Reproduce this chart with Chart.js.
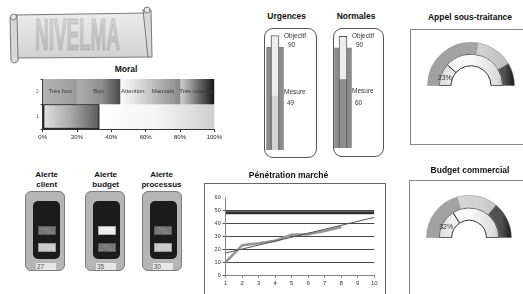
<!DOCTYPE html>
<html>
<head>
<meta charset="utf-8">
<script src="https://cdn.jsdelivr.net/npm/chart.js@4.4.0/dist/chart.umd.min.js"></script>
<style>
    body { margin: 0; width: 523px; height: 294px; overflow: hidden; background: #fff; position: relative;
           font-family: "Liberation Sans", Arial, sans-serif; }
    canvas { position: absolute; }
    .title { position: absolute; font-weight: bold; font-size: 8.5px; line-height: 9px; color: #111;
             text-align: center; white-space: nowrap; transform: translateX(-50%); }
    .small { position: absolute; font-size: 6.5px; line-height: 8px; color: #333; white-space: nowrap; }
    .frame { position: absolute; box-sizing: border-box; }
</style>
</head>
<body>

<svg style="position:absolute;left:0;top:0" width="160" height="70">
    <defs>
        <linearGradient id="scrollFill" x1="0" y1="0" x2="0" y2="1">
            <stop offset="0" stop-color="#ececec"/>
            <stop offset="1" stop-color="#d2d2d2"/>
        </linearGradient>
        <linearGradient id="letterFill" x1="0" y1="0" x2="0" y2="1">
            <stop offset="0" stop-color="#d8d8d8"/>
            <stop offset="1" stop-color="#b4b4b4"/>
        </linearGradient>
    </defs>
    <path d="M15 15 L147 13 L150 57 L17 58 Z" fill="url(#scrollFill)" stroke="#7a7a7a" stroke-width="1"/>
    <path d="M10 17 L17 15 L18 61 Q14 65 11 61 Z" fill="#d8d8d8" stroke="#7a7a7a" stroke-width="1"/>
    <circle cx="13.5" cy="17" r="3" fill="#e8e8e8" stroke="#7a7a7a" stroke-width="1"/>
    <path d="M143 10 Q147 6 151 10 L152 57 L148 57 Z" fill="#d8d8d8" stroke="#7a7a7a" stroke-width="1"/>
    <circle cx="147" cy="10" r="3" fill="#e8e8e8" stroke="#7a7a7a" stroke-width="1"/>
    <text x="35" y="50" font-size="44" font-weight="bold" font-family="Liberation Sans Narrow, Liberation Sans, Arial"
          textLength="85" lengthAdjust="spacingAndGlyphs" fill="url(#letterFill)" stroke="#a8a8a8" stroke-width="0.6">NIVELMA</text>
</svg>

<div class="title" style="left:126px;top:64.5px">Moral</div>
<canvas id="moralChart" width="194" height="68" style="left:30px;top:74px"></canvas>

<div class="title" style="left:286.7px;top:12px">Urgences</div>
<div class="title" style="left:356px;top:12px">Normales</div>
<div class="frame" style="left:264px;top:28px;width:53px;height:130px;border:1px solid #555;border-radius:9px"></div>
<div class="frame" style="left:333px;top:28px;width:51px;height:129px;border:1px solid #555;border-radius:9px"></div>
<canvas id="thermo0" width="30" height="116" style="left:260px;top:34px"></canvas>
<canvas id="thermo1" width="30" height="113" style="left:328px;top:35px"></canvas>
<div id="thermoLabels"></div>

<div class="title" style="left:470px;top:12.8px">Appel sous-traitance</div>
<div class="frame" style="left:410px;top:29px;width:120px;height:116px;border:1px solid #888"></div>
<canvas id="gauge0" width="88" height="44" style="left:427px;top:42px"></canvas>

<div class="title" style="left:470px;top:165.5px">Budget commercial</div>
<div class="frame" style="left:409px;top:180px;width:120px;height:130px;border:1px solid #888"></div>
<canvas id="gauge1" width="86" height="43" style="left:425.5px;top:195px"></canvas>

<div id="alerts"></div>

<div class="title" style="left:288.5px;top:170.5px">Pénétration marché</div>
<div class="frame" style="left:204px;top:183px;width:182px;height:130px;border:1px solid #666"></div>
<canvas id="penetChart" width="178" height="98" style="left:205px;top:190px"></canvas>

<script>
// ---- data ----
var moralCategories = ['1', '2'];
var moralZoneLabels = ['Très bon', 'Bon', 'Attention', 'Mauvais', 'Très mauvais'];
var moralZoneSizes = [20, 25, 15, 20, 20];
var moralValue = 33;

var thermoNames = ['Urgences', 'Normales'];
var thermoObjectif = [90, 90];
var thermoMesure = [49, 60];
var thermoEchelle = [82, 82];

var gaugeZones = [[55, 28, 17], [41, 31, 28]];
var gaugeValues = [23, 32];

var alertTitles = [['Alerte', 'client'], ['Alerte', 'budget'], ['Alerte', 'processus']];
var alertValues = [27, 35, 30];
var alertTop = ['grise', 'claire', 'grise'];
var alertBottom = ['moyenne', 'grise', 'moyenne'];

var penetX = [1, 2, 3, 4, 5, 6, 7, 8, 9, 10];
var penetValues = [10, 23, 24.5, 26.5, 31, 31.5, 34, 37];
var penetTrendEnds = [17, 44.5];
var penetTarget = 48;

Chart.defaults.font.family = '"Liberation Sans", Arial, sans-serif';
Chart.defaults.animation = false;
Chart.defaults.events = [];
Chart.defaults.plugins.legend.display = false;
Chart.defaults.plugins.tooltip.enabled = false;

function stopsGradient(ctx, x0, x1, stops) {
    if (!isFinite(x0) || !isFinite(x1) || x0 === x1) return stops[0][1];
    var g = ctx.createLinearGradient(x0, 0, x1, 0);
    stops.forEach(function (s) { g.addColorStop(s[0], s[1]); });
    return g;
}

// ---- Moral ----
var moralStops = [
    [[0, '#b4b4b4'], [1, '#9c9c9c']],
    [[0, '#b0b0b0'], [0.6, '#8a8a8a'], [1, '#4a4a4a']],
    [[0, '#fbfbfb'], [1, '#cfcfcf']],
    [[0, '#cdcdcd'], [1, '#8a8a8a']],
    [[0, '#d2d2d2'], [1, '#151515']]
];

function zoneStart(i) {
    var s = 0;
    for (var k = 0; k < i; k++) s += moralZoneSizes[k];
    return s;
}

function xPix(chart, v) {
    var x = chart.scales.x;
    return x ? x.getPixelForValue(v) : NaN;
}

var moralDatasets = moralZoneLabels.map(function (label, i) {
    return {
        label: label,
        data: [null, moralZoneSizes[i]],
        backgroundColor: function (c) {
            var from = zoneStart(i);
            return stopsGradient(c.chart.ctx, xPix(c.chart, from), xPix(c.chart, from + moralZoneSizes[i]), moralStops[i]);
        },
        borderWidth: 0
    };
});
moralDatasets.push({
    label: 'Moral',
    data: [moralValue, null],
    backgroundColor: function (c) {
        return stopsGradient(c.chart.ctx, xPix(c.chart, 0), xPix(c.chart, moralValue), [[0, '#e2e2e2'], [0.5, '#a8a8a8'], [1, '#5a5a5a']]);
    },
    borderColor: '#2a2a2a',
    borderWidth: 1.5,
    borderSkipped: false
});
moralDatasets.push({
    label: 'Reste',
    data: [100 - moralValue, null],
    backgroundColor: function (c) {
        return stopsGradient(c.chart.ctx, xPix(c.chart, moralValue), xPix(c.chart, 100), [[0, '#ffffff'], [0.5, '#f4f4f4'], [1, '#cfcfcf']]);
    },
    borderWidth: 0
});

var zoneTextPlugin = {
    id: 'zoneText',
    afterDatasetsDraw: function (chart) {
        var ctx = chart.ctx, a = chart.chartArea;
        ctx.save();
        ctx.beginPath();
        ctx.rect(a.left, a.top, a.right - a.left, a.bottom - a.top);
        ctx.clip();
        ctx.font = '6px "Liberation Sans", Arial, sans-serif';
        ctx.fillStyle = '#3a3a3a';
        ctx.textAlign = 'center';
        ctx.textBaseline = 'middle';
        moralZoneLabels.forEach(function (label, i) {
            var el = chart.getDatasetMeta(i).data[1];
            ctx.fillText(label, (el.x + el.base) / 2, el.y);
        });
        ctx.restore();
    }
};

new Chart(document.getElementById('moralChart'), {
    type: 'bar',
    data: { labels: moralCategories, datasets: moralDatasets },
    options: {
        responsive: false,
        indexAxis: 'y',
        layout: { padding: { left: 0, right: 9, top: 3.3, bottom: 0 } },
        datasets: { bar: { barPercentage: 1, categoryPercentage: 1 } },
        scales: {
            x: {
                stacked: true, min: 0, max: 100,
                afterFit: function (s) { s.height = 13; },
                border: { color: '#333' },
                grid: { drawOnChartArea: false, tickLength: 3, color: '#333' },
                ticks: { stepSize: 20, padding: 2, color: '#222', font: { size: 6 },
                         callback: function (v) { return v + '%'; } }
            },
            y: {
                stacked: true, reverse: true,
                afterFit: function (s) { s.width = 12.7; },
                border: { color: '#333' },
                grid: { drawOnChartArea: false, tickLength: 2, color: '#333' },
                ticks: { color: '#666', font: { size: 5 }, padding: 2 }
            }
        }
    },
    plugins: [zoneTextPlugin]
});

// ---- Urgences / Normales ----
var thermoMesureFill = ['#d3d3d3', '#8e8e8e'];
var thermoLabelPos = [[284, 288, 287], [352, 356, 355]];
var thermoLabelTop = [[32, 41, 88, 99], [32, 41, 87, 99]];

thermoNames.forEach(function (name, i) {
    new Chart(document.getElementById('thermo' + i), {
        type: 'bar',
        data: {
            labels: [name],
            datasets: [
                { label: 'Mesure', data: [thermoMesure[i]], grouped: false, barThickness: 8,
                  backgroundColor: thermoMesureFill[i], borderColor: '#555',
                  borderWidth: { top: 0, left: 1, right: 1, bottom: 1 }, borderSkipped: false },
                { label: 'Objectif', data: [thermoObjectif[i]], grouped: false, barThickness: 8,
                  backgroundColor: '#ececec', borderColor: '#555', borderWidth: 1, borderSkipped: false },
                { label: 'Echelle', data: [thermoEchelle[i]], grouped: false, barThickness: 17,
                  backgroundColor: '#8c8c8c', borderColor: '#7a7a7a', borderWidth: 1, borderSkipped: false }
            ]
        },
        options: {
            responsive: false,
            layout: { padding: 0 },
            scales: {
                x: { display: false },
                y: { display: false, min: 12, max: 91 }
            }
        }
    });

    var p = thermoLabelPos[i], t = thermoLabelTop[i];
    var html = '<div class="small" style="left:' + p[0] + 'px;top:' + t[0] + 'px">Objectif</div>' +
        '<div class="small" style="left:' + p[1] + 'px;top:' + t[1] + 'px">' + thermoObjectif[i] + '</div>' +
        '<div class="small" style="left:' + p[0] + 'px;top:' + t[2] + 'px">Mesure</div>' +
        '<div class="small" style="left:' + p[2] + 'px;top:' + t[3] + 'px">' + thermoMesure[i] + '</div>';
    document.getElementById('thermoLabels').insertAdjacentHTML('beforeend', html);
});

// ---- gauges ----
var gaugeCutout = ['46%', '41%'];
var outerStops = [
    [[0, '#a0a0a0'], [1, '#a8a8a8']],
    [[0, '#dedede'], [0.6, '#d2d2d2'], [1, '#b8b8b8']],
    [[0, '#606060'], [0.88, '#505050'], [1, '#161616']]
];

var gaugeTextPlugin = {
    id: 'gaugeText',
    afterDatasetsDraw: function (chart) {
        var el = chart.getDatasetMeta(1).data[0];
        var pos = el.tooltipPosition();
        var ctx = chart.ctx;
        ctx.save();
        ctx.font = '7px "Liberation Sans", Arial, sans-serif';
        ctx.fillStyle = '#333';
        ctx.textAlign = 'center';
        ctx.textBaseline = 'middle';
        ctx.fillText(chart.data.datasets[1].data[0] + '%', pos.x - 2, pos.y + 1);
        ctx.restore();
    }
};

function areaGradient(c, stops) {
    var a = c.chart.chartArea;
    if (!a) return stops[0][1];
    return stopsGradient(c.chart.ctx, a.left, a.right, stops);
}

gaugeValues.forEach(function (value, i) {
    new Chart(document.getElementById('gauge' + i), {
        type: 'doughnut',
        data: {
            labels: ['a', 'b', 'c'],
            datasets: [
                {
                    data: gaugeZones[i],
                    backgroundColor: function (c) { return areaGradient(c, outerStops[c.dataIndex] || outerStops[0]); },
                    borderColor: '#909090',
                    borderWidth: 0.5
                },
                {
                    data: [value, 100 - value],
                    backgroundColor: function (c) {
                        if (c.dataIndex === 0) return areaGradient(c, [[0, '#c8c8c8'], [0.3, '#eeeeee'], [1, '#eeeeee']]);
                        return areaGradient(c, [[0, '#f2f2f2'], [0.5, '#fafafa'], [0.8, '#dcdcdc'], [1, '#7a7a7a']]);
                    },
                    borderColor: '#333',
                    borderWidth: 1
                }
            ]
        },
        options: {
            responsive: false,
            rotation: -90,
            circumference: 180,
            cutout: gaugeCutout[i],
            layout: { padding: 0 }
        },
        plugins: [gaugeTextPlugin]
    });
});

// ---- alerts ----
var alertLeft = [25, 85, 141.7];
var lampStyle = {
    grise: 'background:#7b7b7b repeating-linear-gradient(45deg,#6f6f6f 0 1px,#858585 1px 2px);border:1px solid #5a5a5a',
    claire: 'background:#eeeeee;border:1px solid #aaa',
    moyenne: 'background:#cbcbcb;border:1px solid #999'
};
var alertCenters = [46.7, 105.7, 161.5];
var alertsHtml = '';
alertTitles.forEach(function (lines, i) {
    var L = alertLeft[i];
    alertsHtml += '<div class="title" style="left:' + alertCenters[i] + 'px;top:170px;font-size:8px;line-height:9.5px">' + lines.join('<br>') + '</div>';
    alertsHtml += '<div class="frame" style="left:' + L + 'px;top:191px;width:40px;height:80px;background:#b5b5b5;border:1px solid #7c7c7c;border-radius:6px"></div>';
    alertsHtml += '<div class="frame" style="left:' + (L + 8.3) + 'px;top:200.7px;width:26.7px;height:58.3px;background:#1b1b1b;border-radius:5px"></div>';
    alertsHtml += '<div class="frame" style="left:' + (L + 12.7) + 'px;top:225.7px;width:18px;height:9px;' + lampStyle[alertTop[i]] + '"></div>';
    alertsHtml += '<div class="frame" style="left:' + (L + 12.7) + 'px;top:243px;width:18px;height:9.3px;' + lampStyle[alertBottom[i]] + '"></div>';
    alertsHtml += '<div class="frame" style="left:' + (L + 11) + 'px;top:263.3px;width:20px;height:7px;background:#e6e6e6;font-size:6.5px;line-height:7px;color:#555;padding-left:1px">' + alertValues[i] + '</div>';
});
document.getElementById('alerts').innerHTML = alertsHtml;

// ---- Pénétration marché ----
var penetPoints = penetValues.map(function (v, i) { return { x: penetX[i], y: v }; });
var firstX = penetX[0], lastX = penetX[penetX.length - 1];

new Chart(document.getElementById('penetChart'), {
    type: 'line',
    data: {
        datasets: [
            { label: 'Objectif', data: [{ x: firstX, y: penetTarget }, { x: lastX, y: penetTarget }],
              borderColor: '#2e2e2e', borderWidth: 3, pointRadius: 0 },
            { label: 'Tendance', data: [{ x: firstX, y: penetTrendEnds[0] }, { x: lastX, y: penetTrendEnds[1] }],
              borderColor: '#555', borderWidth: 1, pointRadius: 0 },
            { label: 'Pénétration', data: penetPoints,
              borderColor: '#959595', borderWidth: 2.5, pointRadius: 0, tension: 0 }
        ]
    },
    options: {
        responsive: false,
        layout: { padding: { left: 0, right: 8.7, top: 7.3, bottom: 0 } },
        scales: {
            x: {
                type: 'linear', min: firstX, max: lastX,
                afterFit: function (s) { s.height = 13; },
                border: { color: '#888' },
                grid: { drawOnChartArea: false, tickLength: 3, color: '#888' },
                ticks: { stepSize: 1, padding: 2, color: '#333', font: { size: 6 } }
            },
            y: {
                min: 0, max: 60,
                afterFit: function (s) { s.width = 20.7; },
                border: { color: '#888' },
                grid: {
                    tickLength: 3,
                    color: function (c) { return c.tick && c.tick.value === 60 ? 'rgba(0,0,0,0)' : '#4a4a4a'; }
                },
                ticks: { stepSize: 10, padding: 2, color: '#333', font: { size: 5.5 } }
            }
        }
    }
});
</script>
</body>
</html>
